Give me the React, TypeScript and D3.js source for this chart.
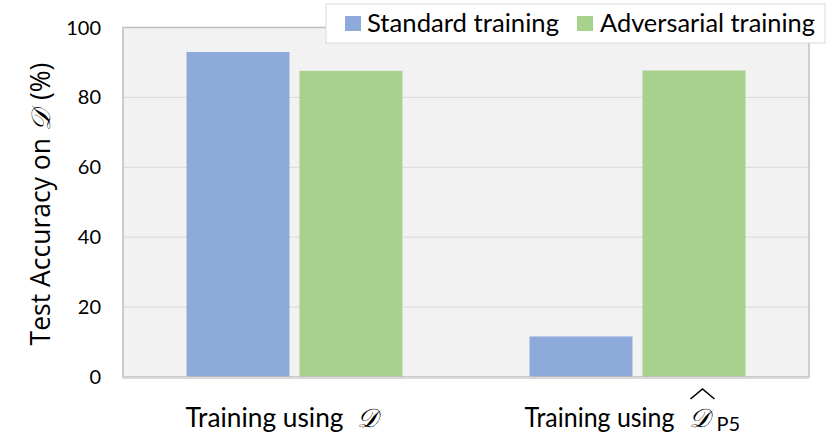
import React from "react";
import * as d3 from "d3";

const categories = ["Training using D", "Training using D_P5"];
const seriesNames = ["Standard training", "Adversarial training"];
const standardValues = [93.0, 11.6];
const adversarialValues = [87.6, 87.7];
const yTicks = [0, 20, 40, 60, 80, 100];
const colors = ["#8eaadb", "#a9d18e"];

const W = 831, H = 443;
const M = { left: 123, right: 809, top: 27.5, bottom: 377 };

export default function App() {
  const x0 = d3.scaleBand<string>().domain(categories).range([M.left, M.right]).paddingInner(0).paddingOuter(0);
  const y = d3.scaleLinear().domain([0, 100]).range([M.bottom, M.top]);
  const groupW = 216;
  const x1 = d3.scaleBand<string>().domain(seriesNames).range([0, groupW]).paddingInner(10 / 113);
  const series = [standardValues, adversarialValues];
  const font = "Lato, 'Open Sans', sans-serif";
  const scriptFont = "'DejaVu Serif', serif";
  const c0 = (x0(categories[0]) as number) + x0.bandwidth() / 2;
  const c1 = (x0(categories[1]) as number) + x0.bandwidth() / 2;

  return (
    <svg width={W} height={H} style={{ position: "absolute", left: 0, top: 0 }}>
      <rect x={0} y={0} width={W} height={H} fill="#fff" />
      <rect x={M.left} y={M.top} width={M.right - M.left} height={M.bottom - M.top} fill="#f2f2f2" />
      {yTicks.filter(t => t > 0).map(t => (
        <line key={t} x1={M.left} x2={M.right} y1={y(t)} y2={y(t)} stroke="#d9d9d9" strokeWidth={1} />
      ))}
      {categories.map((c, ci) => {
        const gx = (x0(c) as number) + x0.bandwidth() / 2 - groupW / 2;
        return seriesNames.map((s, si) => (
          <rect key={c + s} x={gx + (x1(s) as number)} y={y(series[si][ci])}
            width={x1.bandwidth()} height={y(0) - y(series[si][ci])} fill={colors[si]} />
        ));
      })}
      <rect x={M.left} y={M.top} width={M.right - M.left} height={M.bottom - M.top} fill="none" stroke="#bfbfbf" strokeWidth={1.5} />
      <line x1={M.left} x2={M.right} y1={M.bottom + 1} y2={M.bottom + 1} stroke="#d9d9d9" strokeWidth={2} />
      {yTicks.map(t => (
        <text key={t} x={101} y={y(t)} dy="0.35em" textAnchor="end" fontFamily={font} fontSize={20} fill="#000">{t}</text>
      ))}
      {/* x labels */}
      <text x={c0 - 109} y={427} fontFamily={font} fontSize={27} fill="#000" textLength={158} lengthAdjust="spacingAndGlyphs">Training using</text>
      <text x={c0 + 62} y={427} fontFamily={scriptFont} fontStyle="italic" fontSize={26} fill="#000">𝒟</text>

      <text x={c1 - 113} y={427} fontFamily={font} fontSize={27} fill="#000" textLength={150} lengthAdjust="spacingAndGlyphs">Training using</text>
      <text x={c1 + 51} y={427} fontFamily={scriptFont} fontStyle="italic" fontSize={26} fill="#000">𝒟</text>
      <path d={`M${c1 + 53},${399} L${c1 + 65},${389} L${c1 + 77},${399}`} fill="none" stroke="#000" strokeWidth={1.6} />
      <text x={c1 + 79} y={431} fontFamily={font} fontSize={20} fill="#000">P5</text>

      {/* y title */}
      <text transform={`translate(50,${204}) rotate(-90)`} textAnchor="middle" fontFamily="'Open Sans', sans-serif" fontSize={26.5} fill="#000">
        Test Accuracy on <tspan fontFamily={scriptFont} fontStyle="italic">𝒟</tspan><tspan dx={10}>(%)</tspan>
      </text>
      {/* legend */}
      <rect x={326} y={4} width={499} height={39} fill="#fff" stroke="#d9d9d9" strokeWidth={1} />
      <rect x={345} y={16} width={16} height={15} fill={colors[0]} />
      <text x={367} y={32} fontFamily={font} fontSize={25} fill="#000" textLength={192} lengthAdjust="spacingAndGlyphs">{seriesNames[0]}</text>
      <rect x={577} y={16} width={16} height={15} fill={colors[1]} />
      <text x={600} y={32} fontFamily={font} fontSize={25} fill="#000" textLength={215} lengthAdjust="spacingAndGlyphs">{seriesNames[1]}</text>
    </svg>
  );
}
